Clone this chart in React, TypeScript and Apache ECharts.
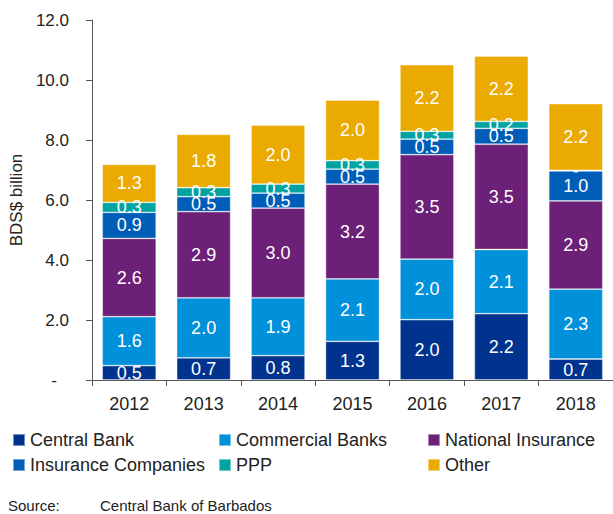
import React, { useEffect, useRef } from "react";
import * as echarts from "echarts";

const years = ["2012", "2013", "2014", "2015", "2016", "2017", "2018"];
const centralBank = [0.48, 0.74, 0.81, 1.29, 2.01, 2.21, 0.7];
const commercialBanks = [1.63, 2.0, 1.93, 2.08, 2.02, 2.14, 2.33];
const nationalInsurance = [2.61, 2.87, 2.99, 3.16, 3.48, 3.51, 2.94];
const insuranceCompanies = [0.87, 0.5, 0.5, 0.5, 0.52, 0.53, 1.0];
const ppp = [0.33, 0.3, 0.3, 0.28, 0.26, 0.23, 0.02];
const other = [1.27, 1.78, 1.97, 2.02, 2.22, 2.18, 2.22];
const yTicks = { min: 0, max: 12, interval: 2 };

const seriesDefs = [
  { name: "Central Bank", data: centralBank, color: "#00338D" },
  { name: "Commercial Banks", data: commercialBanks, color: "#0091DA" },
  { name: "National Insurance", data: nationalInsurance, color: "#6D2077" },
  { name: "Insurance Companies", data: insuranceCompanies, color: "#005EB8" },
  { name: "PPP", data: ppp, color: "#00A3A1" },
  { name: "Other", data: other, color: "#EAAA00" },
];

const FONT = "Liberation Sans, Arial, sans-serif";
const TEXT = "#222222";

const legendPos = [
  { left: 12, top: 431 },
  { left: 218, top: 431 },
  { left: 427, top: 431 },
  { left: 12, top: 456 },
  { left: 218, top: 456 },
  { left: 427, top: 456 },
];

export default function App() {
  const ref = useRef<HTMLDivElement>(null);
  useEffect(() => {
    if (!ref.current) return;
    const chart = echarts.init(ref.current, undefined, { renderer: "svg" });
    chart.setOption({
      animation: false,
      textStyle: { fontFamily: FONT },
      grid: { left: 88, top: 20, bottom: 134, right: -10.5, containLabel: false },
      xAxis: {
        type: "category",
        data: years,
        axisLine: { lineStyle: { color: "#555", width: 1 } },
        axisTick: { show: true, length: 6, lineStyle: { color: "#555" } },
        axisLabel: { color: TEXT, fontSize: 18, margin: 15, fontFamily: FONT },
      },
      yAxis: {
        type: "value",
        min: yTicks.min,
        max: yTicks.max,
        interval: yTicks.interval,
        name: "BDS$ billion",
        nameLocation: "middle",
        nameGap: 63,
        nameTextStyle: { color: TEXT, fontSize: 17, fontFamily: FONT },
        axisLine: { show: true, lineStyle: { color: "#555", width: 1 } },
        axisTick: { show: true, length: 6, lineStyle: { color: "#555" } },
        splitLine: { show: false },
        axisLabel: {
          color: TEXT,
          fontSize: 17,
          margin: 23,
          fontFamily: FONT,
          formatter: (v: number) => (v === 0 ? "{d|-}" : v.toFixed(1)),
          rich: { d: { fontSize: 17, color: TEXT, padding: [0, 12, 0, 0], fontFamily: FONT } },
        },
      },
      legend: seriesDefs.map((s, i) => ({
        data: [s.name],
        left: legendPos[i].left,
        top: legendPos[i].top,
        padding: 0,
        itemWidth: 12,
        itemHeight: 12,
        icon: "rect",
        selectedMode: false,
        textStyle: { color: TEXT, fontSize: 18, fontFamily: FONT },
      })),
      graphic: [
        {
          type: "text",
          left: 8,
          top: 498,
          style: { text: "Source:", fill: TEXT, fontSize: 15, fontFamily: FONT },
        },
        {
          type: "text",
          left: 100,
          top: 498,
          style: { text: "Central Bank of Barbados", fill: TEXT, fontSize: 15, fontFamily: FONT },
        },
      ],
      series: seriesDefs.map((s) => ({
        name: s.name,
        type: "bar",
        stack: "total",
        data: s.data,
        barWidth: 54,
        itemStyle: { color: s.color, borderColor: "rgba(255,255,255,0.45)", borderWidth: 0.8 },
        label: {
          show: true,
          position: "inside",
          color: "#ffffff",
          fontSize: 18,
          fontFamily: FONT,
          formatter: (p: any) => (p.value < 0.05 ? "-" : Number(p.value).toFixed(1)),
        },
      })),
    });
    return () => chart.dispose();
  }, []);
  return (
    <div
      ref={ref}
      style={{ position: "absolute", left: 0, top: 0, width: 613, height: 514 }}
    />
  );
}
